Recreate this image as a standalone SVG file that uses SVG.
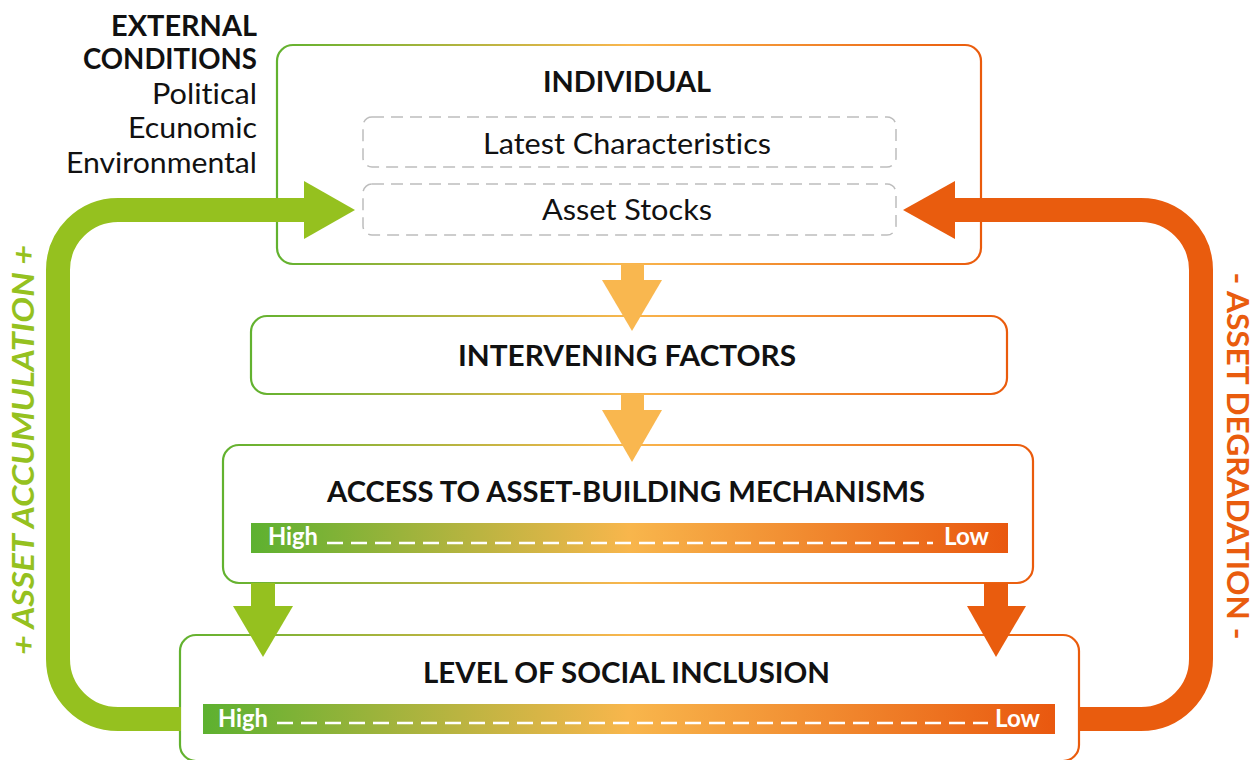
<svg xmlns="http://www.w3.org/2000/svg" width="1259" height="760" viewBox="0 0 1259 760">
  <defs>
    <linearGradient id="edge" x1="0" y1="0" x2="1" y2="0">
      <stop offset="0" stop-color="#62B22F"/>
      <stop offset="0.5" stop-color="#F9B64E"/>
      <stop offset="1" stop-color="#EA5B0C"/>
    </linearGradient>
    <linearGradient id="scale" x1="0" y1="0" x2="1" y2="0">
      <stop offset="0" stop-color="#5DB130"/>
      <stop offset="0.5" stop-color="#F8B64C"/>
      <stop offset="1" stop-color="#E9580F"/>
    </linearGradient>
    <style>
      text { font-family: Lato, "Open Sans", "Liberation Sans", sans-serif; font-variant-ligatures: none; font-feature-settings: "liga" 0, "dlig" 0; }
      .box { fill: #FFFFFF; stroke: url(#edge); stroke-width: 2.2; }
      .slot { fill: none; stroke: #BDBDBD; stroke-width: 1.5; stroke-dasharray: 12 7; }
      .head { font-size: 28px; font-weight: 700; fill: #111111; }
      .body { font-size: 28px; font-weight: 400; fill: #111111; }
      .bar { fill: url(#scale); }
      .tick { font-size: 24px; font-weight: 700; fill: #FFFFFF; }
      .dash { stroke: #FFFFFF; stroke-width: 2.5; stroke-dasharray: 16 8; }
      .band-g { fill: none; stroke: #95C11F; stroke-width: 24; }
      .band-o { fill: none; stroke: #E95C0E; stroke-width: 24; }
      .side { font-size: 31px; font-weight: 700; }
    </style>
  </defs>

  <!-- external conditions caption -->
  <g id="external">
    <text class="head" x="111" y="36" textLength="146" lengthAdjust="spacingAndGlyphs">EXTERNAL</text>
    <text class="head" x="83" y="69" textLength="174" lengthAdjust="spacingAndGlyphs">CONDITIONS</text>
    <text class="body" x="152" y="104" textLength="105" lengthAdjust="spacingAndGlyphs">Political</text>
    <text class="body" x="128" y="138" textLength="129" lengthAdjust="spacingAndGlyphs">Ecunomic</text>
    <text class="body" x="66" y="173" textLength="191" lengthAdjust="spacingAndGlyphs">Environmental</text>
  </g>

  <!-- individual -->
  <g id="individual">
    <rect class="box" x="277" y="45" width="704" height="219" rx="16"/>
    <text class="head" x="543" y="92" textLength="168" lengthAdjust="spacingAndGlyphs">INDIVIDUAL</text>
    <rect class="slot" x="363" y="117" width="533" height="50" rx="9"/>
    <text class="body" x="483" y="154" textLength="288" lengthAdjust="spacingAndGlyphs">Latest Characteristics</text>
    <rect class="slot" x="363" y="184" width="533" height="51" rx="9"/>
    <text class="body" x="542" y="220" textLength="170" lengthAdjust="spacingAndGlyphs">Asset Stocks</text>
  </g>

  <!-- intervening factors -->
  <g id="intervening">
    <rect class="box" x="251" y="316" width="756" height="78" rx="16"/>
    <text class="head" x="458" y="366" textLength="338" lengthAdjust="spacingAndGlyphs">INTERVENING FACTORS</text>
  </g>

  <!-- access to asset-building mechanisms -->
  <g id="access">
    <rect class="box" x="223" y="445" width="810" height="138" rx="16"/>
    <text class="head" x="327" y="502" textLength="598" lengthAdjust="spacingAndGlyphs">ACCESS TO ASSET-BUILDING MECHANISMS</text>
    <rect class="bar" x="251" y="523" width="757" height="30"/>
    <text class="tick" x="268" y="545" textLength="50" lengthAdjust="spacingAndGlyphs">High</text>
    <line class="dash" x1="327" y1="543" x2="933" y2="543"/>
    <text class="tick" x="944" y="545" textLength="45" lengthAdjust="spacingAndGlyphs">Low</text>
  </g>

  <!-- level of social inclusion -->
  <g id="inclusion">
    <rect class="box" x="180" y="635" width="899" height="126" rx="16"/>
    <text class="head" x="423" y="683" textLength="407" lengthAdjust="spacingAndGlyphs">LEVEL OF SOCIAL INCLUSION</text>
    <rect class="bar" x="203" y="704" width="852" height="30"/>
    <text class="tick" x="218" y="727" textLength="50" lengthAdjust="spacingAndGlyphs">High</text>
    <line class="dash" x1="277" y1="723" x2="988" y2="723"/>
    <text class="tick" x="995" y="727" textLength="45" lengthAdjust="spacingAndGlyphs">Low</text>
  </g>

  <!-- connectors -->
  <g id="connectors">
    <!-- accumulation loop (green) -->
    <path class="band-g" d="M 181 719 H 118 A 60 60 0 0 1 58 659 V 270 A 60 60 0 0 1 118 210 H 306"/>
    <polygon fill="#95C11F" points="304,181 355,210 304,239"/>
    <!-- degradation loop (orange) -->
    <path class="band-o" d="M 1078 719 H 1141 A 60 60 0 0 0 1201 659 V 270 A 60 60 0 0 0 1141 210 H 953"/>
    <polygon fill="#E95C0E" points="955,181 903,210 955,239"/>
    <!-- flow arrows -->
    <rect fill="#F9B74F" x="621" y="264" width="23" height="18"/>
    <polygon fill="#F9B74F" points="602,280 662,280 632,331"/>
    <rect fill="#F9B74F" x="621" y="394" width="23" height="18"/>
    <polygon fill="#F9B74F" points="602,410 662,410 632,462"/>
    <rect fill="#95C11F" x="251" y="583" width="24" height="25"/>
    <polygon fill="#95C11F" points="233,606 293,606 263,657"/>
    <rect fill="#E95C0E" x="984" y="583" width="24" height="25"/>
    <polygon fill="#E95C0E" points="967,606 1026,606 996,657"/>
  </g>

  <!-- loop labels -->
  <g id="labels">
    <text class="side" fill="#95C11F" font-style="italic" transform="translate(34 450) rotate(-90)" text-anchor="middle" textLength="410" lengthAdjust="spacingAndGlyphs">+ ASSET ACCUMULATION +</text>
    <text class="side" fill="#E95C0E" transform="translate(1227 456) rotate(90)" text-anchor="middle" textLength="367" lengthAdjust="spacingAndGlyphs">- ASSET DEGRADATION -</text>
  </g>
</svg>
